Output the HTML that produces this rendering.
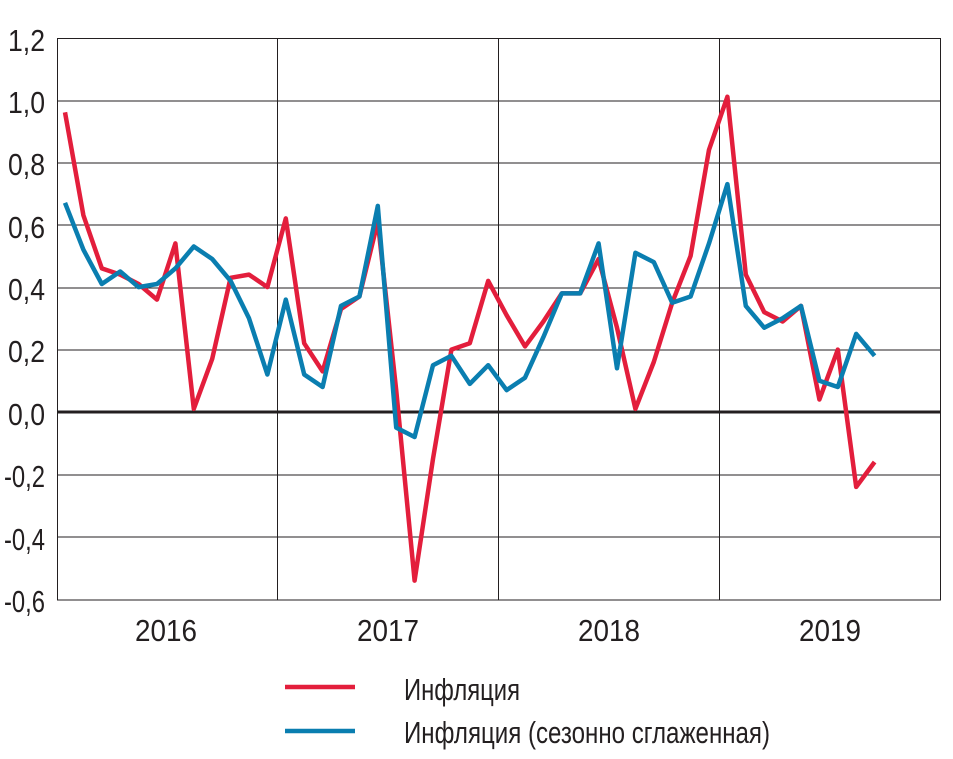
<!DOCTYPE html>
<html><head><meta charset="utf-8"><style>
html,body{margin:0;padding:0;background:#fff;}
svg{display:block;}
text{font-family:"Liberation Sans Narrow","Liberation Sans",sans-serif;fill:#231f20;}
</style></head><body>
<svg id="s" width="953" height="759" xmlns="http://www.w3.org/2000/svg">
<g stroke="#231f20" stroke-width="1" fill="none">
<line x1="57" y1="38.5" x2="941" y2="38.5"/>
<line x1="57" y1="101" x2="941" y2="101"/>
<line x1="57" y1="163" x2="941" y2="163"/>
<line x1="57" y1="225" x2="941" y2="225"/>
<line x1="57" y1="288" x2="941" y2="288"/>
<line x1="57" y1="350" x2="941" y2="350"/>
<line x1="57" y1="475" x2="941" y2="475"/>
<line x1="57" y1="537" x2="941" y2="537"/>
<line x1="57" y1="600" x2="941" y2="600"/>
<line x1="57.5" y1="38" x2="57.5" y2="600"/>
<line x1="277.5" y1="38" x2="277.5" y2="600"/>
<line x1="498.5" y1="38" x2="498.5" y2="600"/>
<line x1="719.5" y1="38" x2="719.5" y2="600"/>
<line x1="940.5" y1="38" x2="940.5" y2="600"/>
</g>
<line x1="57" y1="412" x2="941" y2="412" stroke="#231f20" stroke-width="3"/>
<g font-size="31">
<text x="8" y="51" textLength="37" lengthAdjust="spacingAndGlyphs">1,2</text>
<text x="8" y="113" textLength="37" lengthAdjust="spacingAndGlyphs">1,0</text>
<text x="8" y="175" textLength="37" lengthAdjust="spacingAndGlyphs">0,8</text>
<text x="8" y="238" textLength="37" lengthAdjust="spacingAndGlyphs">0,6</text>
<text x="8" y="300" textLength="37" lengthAdjust="spacingAndGlyphs">0,4</text>
<text x="8" y="362" textLength="37" lengthAdjust="spacingAndGlyphs">0,2</text>
<text x="8" y="425" textLength="37" lengthAdjust="spacingAndGlyphs">0,0</text>
<text x="4" y="487" textLength="41" lengthAdjust="spacingAndGlyphs">-0,2</text>
<text x="4" y="550" textLength="41" lengthAdjust="spacingAndGlyphs">-0,4</text>
<text x="4" y="612" textLength="41" lengthAdjust="spacingAndGlyphs">-0,6</text>
</g>
<g font-size="31">
<text x="135" y="641" textLength="62" lengthAdjust="spacingAndGlyphs">2016</text>
<text x="357" y="641" textLength="62" lengthAdjust="spacingAndGlyphs">2017</text>
<text x="578" y="641" textLength="62" lengthAdjust="spacingAndGlyphs">2018</text>
<text x="799" y="641" textLength="62" lengthAdjust="spacingAndGlyphs">2019</text>
</g>
<polyline id="r" fill="none" stroke="#e31e3c" stroke-width="4.5" stroke-linejoin="round"/>
<polyline id="b" fill="none" stroke="#0a7eb0" stroke-width="4.5" stroke-linejoin="round"/>
<line x1="285" y1="687" x2="355" y2="687" stroke="#e31e3c" stroke-width="4.5"/>
<line x1="285" y1="731" x2="355" y2="731" stroke="#0a7eb0" stroke-width="4.5"/>
<g font-size="31">
<text x="404" y="700" textLength="116" lengthAdjust="spacingAndGlyphs">Инфляция</text>
<text x="404" y="743" textLength="366" lengthAdjust="spacingAndGlyphs">Инфляция (сезонно сглаженная)</text>
</g>
</svg>
<script>
var R=[0.96,0.63,0.46,0.44,0.41,0.36,0.54,0.01,0.17,0.43,0.44,0.40,0.62,0.22,0.13,0.33,0.37,0.61,0.07,-0.54,-0.15,0.20,0.22,0.42,0.31,0.21,0.29,0.38,0.38,0.49,0.27,0.01,0.16,0.35,0.50,0.84,1.01,0.44,0.32,0.29,0.34,0.04,0.20,-0.24,-0.16];
var B=[0.67,0.52,0.41,0.45,0.40,0.41,0.46,0.53,0.49,0.42,0.30,0.12,0.36,0.12,0.08,0.34,0.37,0.66,-0.05,-0.08,0.15,0.18,0.09,0.15,0.07,0.11,0.24,0.38,0.38,0.54,0.14,0.51,0.48,0.35,0.37,0.54,0.73,0.34,0.27,0.30,0.34,0.10,0.08,0.25,0.18];
function p(a){return a.map(function(v,i){return (65+18.4*i).toFixed(1)+","+(412-v*312.2).toFixed(1)}).join(" ");}
document.getElementById("r").setAttribute("points",p(R));
document.getElementById("b").setAttribute("points",p(B));
</script>
</body></html>
